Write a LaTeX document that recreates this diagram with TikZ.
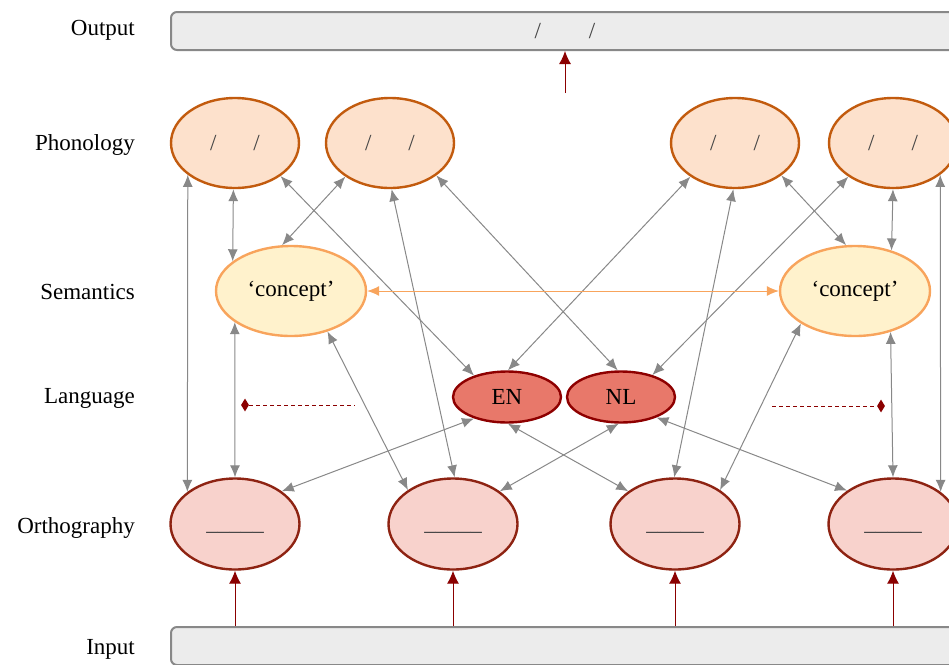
\documentclass[tikz,border=0pt]{standalone}
\usepackage{fontspec}
\setmainfont{Liberation Serif}
\usetikzlibrary{arrows.meta,shapes.geometric}
\definecolor{phonF}{HTML}{FDE1CC}
\definecolor{phonD}{HTML}{C25B0E}
\definecolor{semF}{HTML}{FFF2CC}
\definecolor{semD}{HTML}{F8A45C}
\definecolor{langF}{HTML}{E8786A}
\definecolor{langD}{HTML}{8E0000}
\definecolor{orthF}{HTML}{F8D2CC}
\definecolor{orthD}{HTML}{8E2312}
\definecolor{boxF}{HTML}{ECECEC}
\definecolor{boxD}{HTML}{888888}
\definecolor{linkC}{HTML}{888888}
\definecolor{feedC}{HTML}{8B0000}
\definecolor{txtC}{HTML}{444444}
\begin{document}
\begin{tikzpicture}[x=1pt,y=-1pt,font=\fontsize{23}{27}\selectfont,
  phon/.style={ellipse,draw=phonD,fill=phonF,line width=2.4pt,minimum width=128pt,minimum height=90pt,inner sep=0pt,text=txtC},
  sem/.style={ellipse,draw=semD,fill=semF,line width=2.4pt,minimum width=150pt,minimum height=90pt,inner sep=0pt},
  lang/.style={ellipse,draw=langD,fill=langF,line width=2.4pt,minimum width=108pt,minimum height=51pt,inner sep=0pt},
  orth/.style={ellipse,draw=orthD,fill=orthF,line width=2.4pt,minimum width=129pt,minimum height=91pt,inner sep=0pt,text=txtC,text height=0pt,text depth=0pt},
  iobox/.style={rectangle,rounded corners=6pt,draw=boxD,fill=boxF,line width=2pt,minimum width=788pt,minimum height=38pt,inner sep=0pt,text=txtC},
  lab/.style={anchor=east,inner sep=0pt},
  link/.style={draw=linkC,line width=1pt,{Latex[length=12pt,width=10pt]}-{Latex[length=12pt,width=10pt]}},
  xlink/.style={draw=semD,line width=1pt,{Latex[length=12pt,width=10pt]}-{Latex[length=12pt,width=10pt]}},
  feed/.style={draw=feedC,line width=1pt,-{Latex[length=13pt,width=12pt]}},
  dashl/.style={draw=feedC,line width=1pt,dash pattern=on 4pt off 3pt},
  dia/.style={diamond,fill=feedC,inner sep=0pt,minimum width=8pt,minimum height=13pt}
]
\useasboundingbox (0,0) rectangle (949,664);
\clip (0,0) rectangle (949,664);

% labels
\node[lab] (lout) at (135,30) {Output};
\node[lab] (lpho) at (135,145) {Phonology};
\node[lab] (lsem) at (135,292) {Semantics};
\node[lab] (llan) at (135,398) {Language};
\node[lab] (lort) at (135,528) {Orthography};
\node[lab] (linp) at (135,649) {Input};

% boxes
\node[iobox] (out) at (565,31) {/\hspace{48pt}/};
\node[iobox] (inp) at (565,646) {};

% phonology
\node[phon] (p1) at (235,143) {/\hspace{37pt}/};
\node[phon] (p2) at (390,143) {/\hspace{37pt}/};
\node[phon] (p3) at (735,143) {/\hspace{37pt}/};
\node[phon] (p4) at (893,143) {/\hspace{37pt}/};

% semantics
\node[sem] (s1) at (291,291) {‘concept’};
\node[sem] (s2) at (855,291) {‘concept’};

% language
\node[lang] (en) at (507,397) {EN};
\node[lang] (nl) at (621,397) {NL};

% orthography
\node[orth] (o1) at (235,524) {\smash{\raisebox{-6pt}{\_\_\_\_\_}}};
\node[orth] (o2) at (453,524) {\smash{\raisebox{-6pt}{\_\_\_\_\_}}};
\node[orth] (o3) at (675,524) {\smash{\raisebox{-6pt}{\_\_\_\_\_}}};
\node[orth] (o4) at (893,524) {\smash{\raisebox{-6pt}{\_\_\_\_\_}}};

% links
\draw[link] (p1.214) -- (o1.146);
\draw[link] (p1.268) -- (s1.153);
\draw[link] (s1.209) -- (o1.90);
\draw[link] (p1.-36) -- (en.147);
\draw[link] (p2.217) -- (s1.101);
\draw[link] (p2.272) -- (o2.88);
\draw[link] (p2.-35) -- (nl.97);
\draw[link] (s1.-48) -- (o2.143);
\draw[link] (p3.217) -- (en.88);
\draw[link] (p3.268) -- (o3.91);
\draw[link] (p3.-35) -- (s2.101);
\draw[link] (p4.217) -- (nl.35);
\draw[link] (p4.270) -- (s2.48);
\draw[link] (p4.-34) -- (o4.34);
\draw[link] (s2.-49) -- (o4.90);
\draw[link] (s2.211) -- (o3.37);
\draw[link] (en.213) -- (o1.35);
\draw[link] (en.272) -- (o3.145);
\draw[link] (nl.265) -- (o2.35);
\draw[link] (nl.-30) -- (o4.144);
\draw[xlink] (s1.east) -- (s2.west);

% feeds
\foreach \o in {o1,o2,o3,o4}
  \draw[feed] (\o.south |- inp.north) -- (\o.south);
\coordinate (pout) at (565,93);
\draw[feed] (pout) -- (pout |- out.south);

% dashed language markers
\node[dia] (d1) at (245,405) {};
\coordinate (d1e) at (355,405);
\draw[dashl] (d1.east) -- (d1e);
\node[dia] (d2) at (881,406) {};
\coordinate (d2s) at (772,406);
\draw[dashl] (d2s) -- (d2.west);
\end{tikzpicture}
\end{document}
